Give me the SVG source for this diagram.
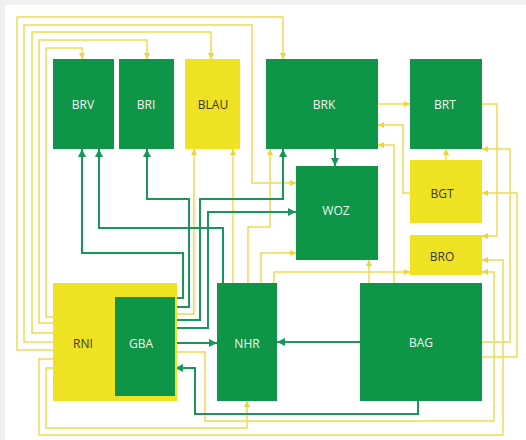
<svg xmlns="http://www.w3.org/2000/svg" width="526" height="440" viewBox="0 0 526 440">
<style>
.g{fill:#0f9548}
.y{fill:#efe222}
.tw{font-family:"Open Sans","Noto Sans",sans-serif;font-size:12px;fill:#eef8ee;text-anchor:middle;dominant-baseline:central}
.td{font-family:"Open Sans","Noto Sans",sans-serif;font-size:12px;fill:#3a3a20;text-anchor:middle;dominant-baseline:central}
.cy{fill:none;stroke:#ecdc58;stroke-width:1.5;marker-end:url(#ay)}
.cg{fill:none;stroke:#17985a;stroke-width:2;marker-end:url(#ag)}
</style>
<defs>
<marker id="ay" markerWidth="7" markerHeight="7" refX="6" refY="3.5" orient="auto" markerUnits="userSpaceOnUse"><path d="M0,0.5 L6,3.5 L0,6.5 z" fill="#e8d63a"/></marker>
<marker id="ag" markerWidth="9" markerHeight="9" refX="8" refY="4.5" orient="auto" markerUnits="userSpaceOnUse"><path d="M0,0.5 L8,4.5 L0,8.5 z" fill="#17985a"/></marker>
</defs>
<rect width="526" height="440" fill="#efefef"/>
<rect x="5" y="5" width="521" height="435" fill="#ffffff"/>
<g id="connectors">
<path class="cy" d="M53,350 H17 V17 H283 V59"/>
<path class="cy" d="M53,342 H24 V25 H252 V183 H296"/>
<path class="cy" d="M53,333 H32 V32 H211 V59"/>
<path class="cy" d="M53,323 H39 V40 H147 V59"/>
<path class="cy" d="M53,317 H46 V48 H82 V59"/>
<path class="cy" d="M53,368 H46 V428 H247 V401"/>
<path class="cy" d="M53,359 H39 V435 H503 V260 H482"/>
<path class="cy" d="M177,314 H194 V149"/>
<path class="cy" d="M177,352 H205 V421 H494 V272 H482"/>
<path class="cy" d="M233,283 V149"/>
<path class="cy" d="M248,283 V227 H270 V149"/>
<path class="cy" d="M261,283 V253 H296"/>
<path class="cy" d="M274,283 V272 H410"/>
<path class="cy" d="M369,283 V260"/>
<path class="cy" d="M394,283 V145 H378"/>
<path class="cy" d="M410,193 H403 V125 H378"/>
<path class="cy" d="M378,104 H410"/>
<path class="cy" d="M446,160 V149"/>
<path class="cy" d="M482,104 H497 V236 H482"/>
<path class="cy" d="M482,342 H510 V149 H482"/>
<path class="cy" d="M482,357 H517 V193 H482"/>
<path class="cg" d="M175,298 H183 V253 H82 V149"/>
<path class="cg" d="M175,307 H189 V199 H147 V149"/>
<path class="cg" d="M175,320 H200 V199 H283 V149"/>
<path class="cg" d="M175,328 H208 V212 H296"/>
<path class="cg" d="M175,343 H217"/>
<path class="cg" d="M223,283 V228 H99 V149"/>
<path class="cg" d="M360,342 H277"/>
<path class="cg" d="M418,401 V414 H195 V368 H175"/>
<path class="cg" d="M335,149 V166"/>
</g>
<g id="BRV"><rect class="g" x="53" y="59" width="61" height="90"/><text class="tw" x="83" y="104">BRV</text></g>
<g id="BRI"><rect class="g" x="119" y="59" width="55" height="90"/><text class="tw" x="146" y="104">BRI</text></g>
<g id="BLAU"><rect class="y" x="185" y="59" width="55" height="90"/><text class="td" x="213" y="104">BLAU</text></g>
<g id="BRK"><rect class="g" x="266" y="59" width="112" height="90"/><text class="tw" x="324" y="104">BRK</text></g>
<g id="BRT"><rect class="g" x="410" y="59" width="72" height="90"/><text class="tw" x="445" y="104">BRT</text></g>
<g id="BGT"><rect class="y" x="410" y="160" width="72" height="63"/><text class="td" x="442" y="193">BGT</text></g>
<g id="BRO"><rect class="y" x="410" y="235" width="72" height="40"/><text class="td" x="442" y="256">BRO</text></g>
<g id="WOZ"><rect class="g" x="296" y="166" width="82" height="94"/><text class="tw" x="336" y="210">WOZ</text></g>
<g id="RNI"><rect class="y" x="53" y="283" width="124" height="118"/><text class="td" x="83" y="343">RNI</text></g>
<g id="GBA"><rect class="g" x="115" y="297" width="60" height="99"/><text class="tw" x="141" y="343">GBA</text></g>
<g id="NHR"><rect class="g" x="217" y="283" width="60" height="118"/><text class="tw" x="247" y="343">NHR</text></g>
<g id="BAG"><rect class="g" x="360" y="283" width="122" height="118"/><text class="tw" x="421" y="342">BAG</text></g>
</svg>
